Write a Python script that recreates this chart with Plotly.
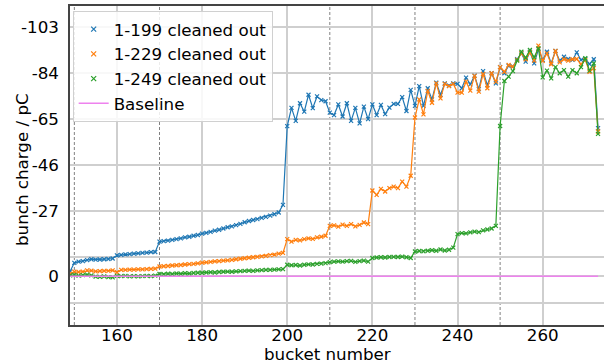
import plotly.graph_objects as go

buckets = list(range(149, 274))

# bunch charge (pC) per bucket
charge_199 = [
    -2.0,                                                             # 149
    -5.5, -6.0, -6.2, -6.6, -7.0, -6.8, -6.9, -7.0, -7.1, -7.3,       # 150-159
    -8.6, -8.8, -9.0, -9.1, -9.3, -9.4, -9.6, -9.7, -9.9, -10.0,      # 160-169
    -14.3, -14.5, -14.7, -15.0, -15.3, -15.6, -16.0, -16.3, -16.7, -17.0,  # 170-179
    -17.6, -17.9, -18.3, -18.8, -19.2, -19.7, -20.2, -20.6, -21.1, -21.6,  # 180-189
    -22.3, -22.8, -23.2, -23.6, -24.1, -24.5, -25.0, -25.6, -26.3, -29.5,  # 190-199
    -62.0, -69.6, -64.2, -71.5, -68.0, -75.0, -69.5, -74.3, -72.8, -72.3,  # 200-209
    -67.6, -66.6, -71.0, -66.0, -71.5, -64.2, -69.6, -63.2, -70.1, -64.9,  # 210-219
    -71.0, -66.6, -70.8, -67.0, -69.7, -71.2, -71.2, -74.0, -68.3, -77.0,  # 220-229
    -70.4, -78.6, -70.4, -77.7, -73.1, -80.0, -75.0, -79.7, -78.8, -79.7,  # 230-239
    -79.5, -77.7, -82.1, -79.3, -82.9, -77.3, -84.8, -79.0, -83.9, -79.7,  # 240-249
    -86.4, -83.9, -87.0, -86.6, -89.7, -92.1, -88.7, -92.8, -88.0, -93.8,  # 250-259
    -89.4, -92.8, -88.0, -93.1, -89.1, -90.7, -89.8, -89.4, -92.5, -89.4,  # 260-269
    -89.8, -87.7, -89.7, -61.2,                                       # 270-273
]
charge_229 = [
    -1.0,
    -1.8, -1.7, -1.9, -2.4, -2.3, -2.0, -2.1, -2.2, -2.2, -2.4,
    -1.6, -2.6, -2.6, -2.7, -2.7, -2.8, -2.8, -2.9, -3.0, -3.1,
    -4.0, -4.1, -4.2, -4.4, -4.5, -4.6, -4.8, -5.0, -5.1, -5.3,
    -5.6, -5.7, -5.9, -6.1, -6.2, -6.4, -6.5, -6.7, -7.0, -7.2,
    -7.4, -7.6, -7.8, -8.0, -8.2, -8.4, -8.7, -8.9, -9.3, -9.6,
    -15.3, -14.3, -15.0, -14.8, -15.3, -15.6, -15.4, -16.0, -16.3, -16.7,
    -20.8, -21.0, -20.5, -21.3, -20.8, -21.5, -20.6, -21.2, -22.2, -21.5,
    -35.4, -33.6, -36.1, -35.0, -36.4, -37.0, -36.4, -39.1, -37.0, -41.5,
    -65.6, -73.1, -66.9, -76.6, -71.7, -79.7, -73.5, -79.5, -78.6, -79.5,
    -75.9, -75.9, -80.4, -76.7, -82.8, -76.3, -83.6, -77.7, -83.9, -80.4,
    -86.4, -84.5, -87.3, -86.6, -89.4, -92.1, -89.7, -92.5, -89.1, -95.3,
    -89.0, -92.1, -87.6, -93.1, -88.4, -89.7, -89.1, -89.7, -89.8, -87.6,
    -89.4, -84.5, -86.0, -59.8,
]
charge_249 = [
    -0.3,
    -0.5, -0.2, -0.4, -0.6, -0.3, 0.2, 0.3, 0.1, 0.4, 0.5,
    -0.1, 0.0, -0.1, 0.1, 0.0, 0.1, 0.0, -0.1, 0.0, -0.2,
    -0.9, -0.8, -1.0, -0.9, -1.1, -1.0, -1.2, -1.1, -1.3, -1.4,
    -1.4, -1.5, -1.6, -1.5, -1.7, -1.8, -1.9, -1.8, -2.0, -2.1,
    -2.2, -2.3, -2.2, -2.4, -2.5, -2.6, -2.6, -2.7, -2.8, -2.9,
    -4.7, -4.5, -4.6, -4.4, -4.7, -4.9, -4.8, -5.1, -5.2, -5.4,
    -5.8, -6.0, -6.1, -6.0, -6.2, -6.3, -5.9, -6.2, -6.4, -6.0,
    -7.5, -7.7, -7.8, -7.7, -7.9, -8.0, -7.9, -8.1, -7.8, -7.5,
    -10.2, -10.4, -10.3, -10.5, -10.7, -10.5, -11.0, -10.6, -10.9, -11.8,
    -17.4, -17.8, -17.7, -18.1, -18.4, -18.2, -18.9, -19.3, -19.7, -20.8,
    -62.1, -80.7, -82.5, -84.8, -89.1, -92.8, -90.3, -93.5, -90.5, -94.2,
    -82.2, -85.0, -81.8, -86.4, -83.9, -85.2, -82.5, -85.2, -83.9, -86.4,
    -90.1, -85.0, -88.0, -58.8,
]
baseline = [0.0] * len(buckets)

series_names = ["1-199 cleaned out", "1-229 cleaned out", "1-249 cleaned out"]
series_values = [charge_199, charge_229, charge_249]
series_colors = ["#1f77b4", "#ff7f0e", "#2ca02c"]

train_boundaries = [150, 160, 170, 200, 210, 220, 230, 240, 250]
x_ticks = [160, 180, 200, 220, 240, 260]
y_ticks = [-103, -84, -65, -46, -27, -8, 0, 11]
y_tick_text = ["-103", "-84", "-65", "-46", "-27", "", "0", ""]
x_title = "bucket number"
y_title = "bunch charge / pC"

for v in series_values:
    assert len(v) == len(buckets)

FONT = "DejaVu Sans"
FS = 16.7
fig = go.Figure()

for name, vals, col in zip(series_names, series_values, series_colors):
    fig.add_trace(go.Scatter(
        x=buckets, y=vals, mode="lines+markers", name=name, showlegend=False,
        line=dict(color=col, width=1.2),
        marker=dict(symbol="x-thin", size=4, color=col, line=dict(color=col, width=1.2)),
    ))
fig.add_trace(go.Scatter(
    x=buckets, y=baseline, mode="lines", name="Baseline", showlegend=False,
    line=dict(color="#ee82ee", width=1.5),
))
# legend entries (marker-only like the reference)
for name, col in zip(series_names, series_colors):
    fig.add_trace(go.Scatter(
        x=[None], y=[None], mode="markers", name=name,
        marker=dict(symbol="x-thin", size=5, color=col, line=dict(color=col, width=1.2)),
    ))
fig.add_trace(go.Scatter(x=[None], y=[None], mode="lines", name="Baseline",
                         line=dict(color="#ee82ee", width=1.5)))

for b in train_boundaries:
    fig.add_shape(type="line", xref="x", yref="paper", x0=b, x1=b, y0=0, y1=1,
                  line=dict(color="#808080", width=1, dash="3px,2px"), layer="between")

# axis titles placed as in the reference
fig.add_annotation(text=x_title, xref="paper", yref="paper", x=(327 - 70) / 534, y=-(354 - 325) / 319,
                   xanchor="center", yanchor="middle", showarrow=False,
                   font=dict(family=FONT, size=FS, color="black"))
fig.add_annotation(text=y_title, xref="paper", yref="paper", x=(22 - 70) / 534, y=(325 - 170) / 319,
                   xanchor="center", yanchor="middle", showarrow=False, textangle=-90,
                   font=dict(family=FONT, size=FS, color="black"))

fig.update_layout(
    width=604, height=364,
    margin=dict(l=70, r=0, t=6, b=39, autoexpand=False),
    paper_bgcolor="white", plot_bgcolor="white",
    font=dict(family=FONT, size=FS, color="black"),
    legend=dict(
        x=0.005, y=0.985, xanchor="left", yanchor="top",
        bgcolor="rgba(255,255,255,0.85)", bordercolor="#d0d0d0", borderwidth=1,
        font=dict(family=FONT, size=FS, color="black"),
        tracegroupgap=0, itemwidth=30,
    ),
    xaxis=dict(
        range=[148.98, 274.4], tickvals=x_ticks, showgrid=True,
        gridcolor="#cfcfcf", gridwidth=1.5, zeroline=False,
        showline=True, linecolor="#444444", linewidth=1.5, mirror=True,
        ticks="", tickfont=dict(size=FS), automargin=False, ticklabelstandoff=-6,
    ),
    yaxis=dict(
        range=[20.2, -111.7], tickvals=y_ticks, ticktext=y_tick_text, showgrid=True,
        gridcolor="#cfcfcf", gridwidth=1.5, zeroline=False,
        showline=True, linecolor="#444444", linewidth=1.5,
        ticks="", tickfont=dict(size=FS), ticklabelstandoff=6, automargin=False,
    ),
)

fig.write_html("out.html", post_script="document.body.style.margin='0px';",
               config={"displayModeBar": False})
